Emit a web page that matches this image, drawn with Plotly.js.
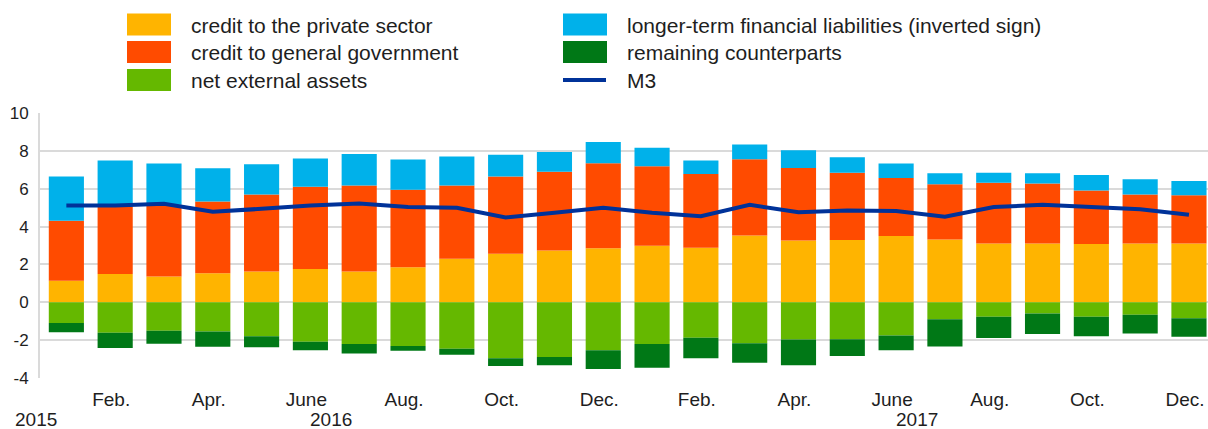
<!DOCTYPE html>
<html><head><meta charset="utf-8">
<script src="https://cdn.plot.ly/plotly-3.0.1.min.js"></script>
<style>html,body{margin:0;padding:0;background:#fff}#chart{width:1208px;height:429px}</style>
</head><body><div id="chart"></div>
<script>
const months = ["2016-01","2016-02","2016-03","2016-04","2016-05","2016-06","2016-07","2016-08","2016-09","2016-10","2016-11","2016-12",
                "2017-01","2017-02","2017-03","2017-04","2017-05","2017-06","2017-07","2017-08","2017-09","2017-10","2017-11","2017-12"];
const tickMonths = ["2016-02","2016-04","2016-06","2016-08","2016-10","2016-12","2017-02","2017-04","2017-06","2017-08","2017-10","2017-12"];
const tickLabels = ["Feb.","Apr.","June","Aug.","Oct.","Dec.","Feb.","Apr.","June","Aug.","Oct.","Dec."];
const yTickVals = [-4,-2,0,2,4,6,8,10];
const yTickLabels = ["-4","-2","0","2","4","6","8","10"];
const yearLabels = ["2015","2016","2017"];

const creditPrivate = [1.14,1.50,1.36,1.53,1.62,1.76,1.62,1.85,2.30,2.57,2.74,2.85,2.99,2.88,3.53,3.27,3.29,3.50,3.32,3.11,3.11,3.08,3.11,3.11];
const creditGovernment = [3.17,3.55,3.79,3.79,4.07,4.34,4.55,4.09,3.87,4.07,4.15,4.49,4.20,3.90,4.03,3.82,3.55,3.07,2.92,3.20,3.16,2.82,2.58,2.55];
const netExternal = [-1.09,-1.61,-1.51,-1.54,-1.79,-2.09,-2.21,-2.31,-2.45,-2.96,-2.89,-2.54,-2.21,-1.88,-2.17,-1.96,-1.95,-1.75,-0.89,-0.77,-0.59,-0.77,-0.66,-0.84];
const longerTerm = [2.33,2.44,2.18,1.76,1.60,1.49,1.67,1.60,1.53,1.16,1.05,1.13,0.98,0.71,0.77,0.94,0.82,0.76,0.58,0.54,0.55,0.83,0.81,0.75];
const remaining = [-0.49,-0.81,-0.68,-0.81,-0.59,-0.44,-0.49,-0.25,-0.32,-0.41,-0.43,-0.99,-1.25,-1.07,-1.02,-1.37,-0.89,-0.78,-1.44,-1.12,-1.09,-1.02,-0.99,-0.98];
const m3 = [5.11,5.11,5.20,4.78,4.94,5.11,5.22,5.03,4.99,4.48,4.73,4.99,4.73,4.55,5.15,4.76,4.85,4.82,4.52,5.03,5.15,5.03,4.92,4.62];

const seriesNames = ["credit to the private sector","credit to general government","net external assets",
                     "longer-term financial liabilities (inverted sign)","remaining counterparts","M3"];
const colors = ["#FFB400","#FF4B00","#65B800","#00B1EA","#007816","#003299"];

const barData = [creditPrivate, creditGovernment, netExternal, longerTerm, remaining];
const traces = barData.map((vals, i) => ({
  type: "bar", x: months, y: vals, name: seriesNames[i],
  marker: {color: colors[i], line: {width: 0}}, showlegend: false, hoverinfo: "y"
}));
traces.push({type: "scatter", mode: "lines", x: months, y: m3, name: seriesNames[5],
  line: {color: colors[5], width: 4}, showlegend: false});

// layout geometry (pixels)
const W = 1208, H = 429, L = 40, R = 0, T = 113, B = 51;
const pw = W - L - R, ph = H - T - B;
const px = p => (p - L) / pw;
const py = p => (H - B - p) / ph;

const font = "Liberation Sans, Arial, Helvetica, sans-serif";
const txtColor = "#1e1e1e";
const shapes = [];
const annotations = [];

// custom legend (two columns of three)
const legendCols = [127, 563];
const legendRows = [24.5, 52, 80];
for (let i = 0; i < 6; i++) {
  const col = Math.floor(i / 3), row = i % 3;
  const x0 = legendCols[col], yc = legendRows[row];
  if (i < 5) {
    shapes.push({type: "rect", xref: "paper", yref: "paper", x0: px(x0), x1: px(x0 + 44),
      y0: py(yc + 11), y1: py(yc - 11), fillcolor: colors[i], line: {width: 0}});
  } else {
    shapes.push({type: "line", xref: "paper", yref: "paper", x0: px(x0), x1: px(x0 + 43),
      y0: py(yc), y1: py(yc), line: {color: colors[i], width: 4}});
  }
  annotations.push({xref: "paper", yref: "paper", x: px(x0 + 62), y: py(yc + 0.5), xanchor: "left", yanchor: "middle",
    text: seriesNames[i], showarrow: false, font: {family: font, size: 21, color: txtColor}});
}

// year labels
const yearFont = {family: font, size: 19, color: txtColor};
annotations.push({xref: "paper", yref: "paper", x: px(14), y: py(419), xanchor: "left", yanchor: "middle",
  text: yearLabels[0], showarrow: false, font: yearFont, borderpad: 0});
annotations.push({xref: "x", yref: "paper", x: 5.43, y: py(419), xanchor: "center", yanchor: "middle",
  text: yearLabels[1], showarrow: false, font: yearFont, borderpad: 0});
annotations.push({xref: "x", yref: "paper", x: 17.43, y: py(419), xanchor: "center", yanchor: "middle",
  text: yearLabels[2], showarrow: false, font: yearFont, borderpad: 0});

const layout = {
  width: W, height: H,
  margin: {l: L, r: R, t: T, b: B, pad: 0},
  paper_bgcolor: "#fff", plot_bgcolor: "#fff",
  barmode: "relative", bargap: 0.28,
  font: {family: font, color: txtColor},
  showlegend: false,
  xaxis: {type: "category", categoryorder: "array", categoryarray: months,
    range: [-0.54, 23.39], tickvals: tickMonths, ticktext: tickLabels,
    showgrid: false, showline: false, zeroline: false, ticks: "",
    tickfont: {family: font, size: 19, color: txtColor}, ticklabelstandoff: 8, ticklabelshift: -4, fixedrange: true},
  yaxis: {range: [-4, 10], tickvals: yTickVals, ticktext: yTickLabels,
    showgrid: true, gridcolor: "#dadada", gridwidth: 2,
    zeroline: true, zerolinecolor: "#dadada", zerolinewidth: 2,
    showline: true, linecolor: "#dadada", linewidth: 2, ticks: "",
    tickfont: {family: font, size: 17, color: txtColor}, ticklabelstandoff: 6, fixedrange: true},
  shapes: shapes,
  annotations: annotations
};

Plotly.newPlot("chart", traces, layout, {displayModeBar: false, staticPlot: true});
</script>
</body></html>
